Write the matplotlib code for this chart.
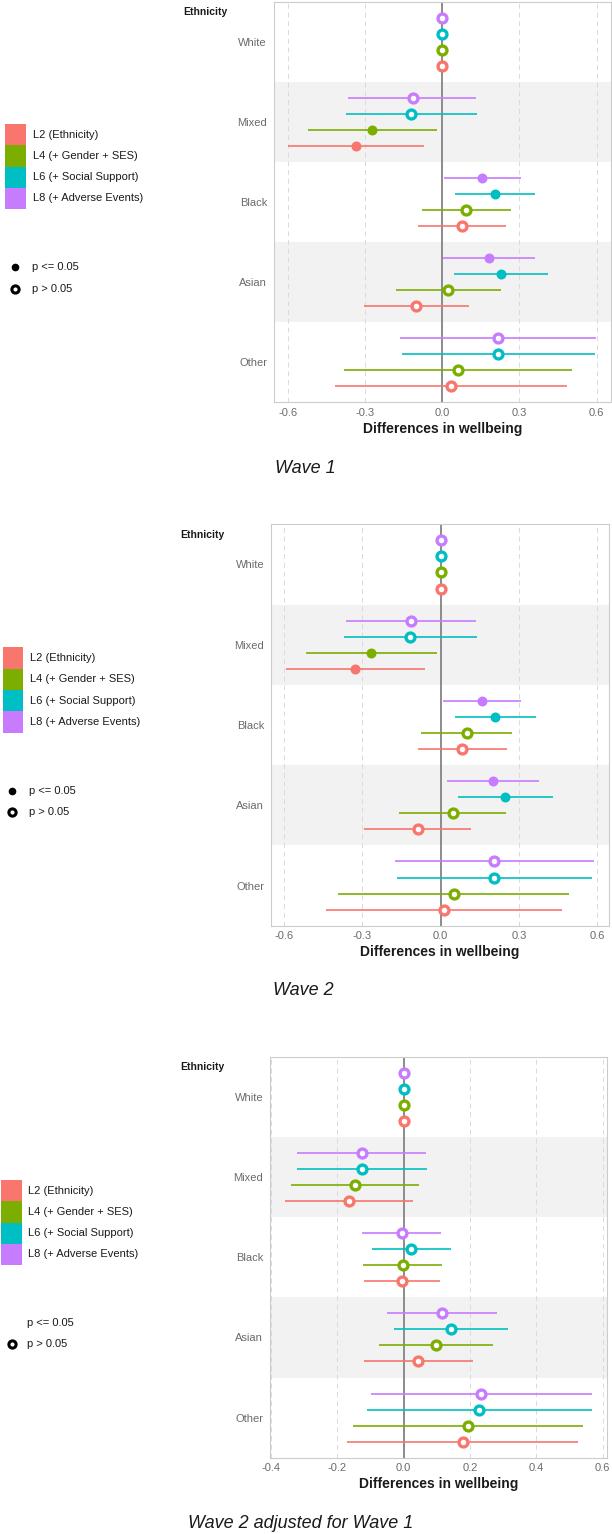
import matplotlib
matplotlib.use("Agg")
import matplotlib.pyplot as plt
from matplotlib.patches import Rectangle
from matplotlib.lines import Line2D

plt.rcParams['font.family'] = ['Liberation Sans', 'DejaVu Sans']

W, H = 612, 1534
DPI = 100

ethnicities = ["White", "Mixed", "Black", "Asian", "Other"]
models = ["L2 (Ethnicity)", "L4 (+ Gender + SES)", "L6 (+ Social Support)", "L8 (+ Adverse Events)"]
colors = ["#F8766D", "#7CAE00", "#00BFC4", "#C77CFF"]
titles = ["Wave 1", "Wave 2", "Wave 2 adjusted for Wave 1"]
xlabel = "Differences in wellbeing"

# Wave 1 (rows: L2, L4, L6, L8; columns: White, Mixed, Black, Asian, Other)
w1_est = [[0, -0.334, 0.076, -0.100, 0.035],
          [0, -0.272, 0.092, 0.023, 0.060],
          [0, -0.119, 0.205, 0.229, 0.219],
          [0, -0.115, 0.155, 0.183, 0.218]]
w1_lo = [[0, -0.598, -0.093, -0.304, -0.418],
         [0, -0.522, -0.080, -0.180, -0.382],
         [0, -0.372, 0.051, 0.047, -0.157],
         [0, -0.364, 0.008, 0.003, -0.165]]
w1_hi = [[0, -0.069, 0.247, 0.105, 0.487],
         [0, -0.019, 0.268, 0.229, 0.504],
         [0, 0.135, 0.361, 0.413, 0.593],
         [0, 0.133, 0.306, 0.361, 0.598]]
w1_sig = [[0, 1, 0, 0, 0],
          [0, 1, 0, 0, 0],
          [0, 0, 1, 1, 0],
          [0, 0, 1, 1, 0]]

# Wave 2
w2_est = [[0, -0.327, 0.083, -0.088, 0.013],
          [0, -0.267, 0.100, 0.046, 0.050],
          [0, -0.116, 0.209, 0.248, 0.203],
          [0, -0.113, 0.159, 0.201, 0.203]]
w2_lo = [[0, -0.592, -0.087, -0.293, -0.440],
         [0, -0.518, -0.074, -0.160, -0.394],
         [0, -0.370, 0.054, 0.067, -0.169],
         [0, -0.362, 0.009, 0.024, -0.175]]
w2_hi = [[0, -0.059, 0.253, 0.118, 0.466],
         [0, -0.014, 0.274, 0.251, 0.491],
         [0, 0.138, 0.366, 0.431, 0.581],
         [0, 0.137, 0.308, 0.379, 0.587]]
w2_sig = [[0, 1, 0, 0, 0],
          [0, 1, 0, 0, 0],
          [0, 0, 1, 1, 0],
          [0, 0, 1, 1, 0]]

# Wave 2 adjusted for Wave 1
w3_est = [[0, -0.165, -0.004, 0.043, 0.179],
          [0, -0.146, -0.003, 0.097, 0.193],
          [0, -0.126, 0.022, 0.142, 0.228],
          [0, -0.127, -0.006, 0.117, 0.234]]
w3_lo = [[0, -0.357, -0.120, -0.121, -0.170],
         [0, -0.339, -0.122, -0.073, -0.153],
         [0, -0.322, -0.095, -0.030, -0.112],
         [0, -0.321, -0.125, -0.051, -0.099]]
w3_hi = [[0, 0.029, 0.110, 0.208, 0.527],
         [0, 0.046, 0.116, 0.268, 0.540],
         [0, 0.070, 0.142, 0.314, 0.569],
         [0, 0.067, 0.113, 0.282, 0.567]]
w3_sig = [[0, 0, 0, 0, 0],
          [0, 0, 0, 0, 0],
          [0, 0, 0, 0, 0],
          [0, 0, 0, 0, 0]]

ticks12 = [-0.6, -0.3, 0.0, 0.3, 0.6]
tick_labels12 = ["-0.6", "-0.3", "0.0", "0.3", "0.6"]
ticks3 = [-0.4, -0.2, 0.0, 0.2, 0.4, 0.6]
tick_labels3 = ["-0.4", "-0.2", "0.0", "0.2", "0.4", "0.6"]

fig = plt.figure(figsize=(W / DPI, H / DPI), dpi=DPI)


def fx(x):
    return x / W


def fy(y):
    return 1 - y / H


panels = [
    dict(est=w1_est, lo=w1_lo, hi=w1_hi, sig=w1_sig, box=(274, 2, 611, 402),
         xlim=(-0.653, 0.656), ticks=ticks12, tl=tick_labels12, title=titles[0],
         title_xy=(275, 468), eth_xy=(183, 12), leg_sq=(4.7, 26, 124, 209),
         leg_text_x=33, dot_x=15, dot_y=(267, 289), show_filled=True),
    dict(est=w2_est, lo=w2_lo, hi=w2_hi, sig=w2_sig, box=(271.3, 524.3, 608.7, 925.7),
         xlim=(-0.650, 0.645), ticks=ticks12, tl=tick_labels12, title=titles[1],
         title_xy=(273, 991), eth_xy=(180, 535), leg_sq=(2.7, 23.3, 647, 733),
         leg_text_x=30, dot_x=12, dot_y=(791, 812), show_filled=True),
    dict(est=w3_est, lo=w3_lo, hi=w3_hi, sig=w3_sig, box=(270.3, 1056.7, 607, 1457.7),
         xlim=(-0.402, 0.613), ticks=ticks3, tl=tick_labels3, title=titles[2],
         title_xy=(188, 1523), eth_xy=(180, 1067), leg_sq=(1, 22, 1180, 1265),
         leg_text_x=28, dot_x=12, dot_y=(1323, 1344), show_filled=False),
]

offsets = [0.3, 0.1, -0.1, -0.3]
border_col = "#CCCCCC"

for p in panels:
    l, t, r, b = p["box"]
    ax = fig.add_axes([fx(l), fy(b), (r - l) / W, (b - t) / H])
    ax.set_xlim(*p["xlim"])
    ax.set_ylim(4.5, -0.5)
    # alternating bands
    for i in (1, 3):
        ax.axhspan(i - 0.5, i + 0.5, color="#F2F2F2", zorder=0, lw=0)
    for tk in p["ticks"]:
        ax.axvline(tk, color="#DADADA", lw=0.7, ls=(0, (5, 4)), zorder=0.5)
    ax.axvline(0, color="#8C8C8C", lw=1.4, zorder=1)
    for m in range(4):
        for e in range(5):
            y = e + offsets[m]
            ax.plot([p["lo"][m][e], p["hi"][m][e]], [y, y], color=colors[m], lw=1.2,
                    solid_capstyle="butt", zorder=2)
            if p["sig"][m][e]:
                ax.plot([p["est"][m][e]], [y], marker="o", ms=7.2, color=colors[m],
                        mec=colors[m], mew=0, ls="none", zorder=3)
            else:
                ax.plot([p["est"][m][e]], [y], marker="o", ms=6.4, mfc="white",
                        mec=colors[m], mew=2.4, ls="none", zorder=3)
    ax.set_yticks(range(5))
    ax.set_yticklabels(ethnicities)
    ax.set_xticks(p["ticks"])
    ax.set_xticklabels(p["tl"])
    ax.tick_params(axis="both", colors="#CCCCCC", labelcolor="#6B6B6B", labelsize=8,
                   length=0, pad=4)
    ax.tick_params(axis="y", pad=5)
    for s in ax.spines.values():
        s.set_color(border_col)
        s.set_linewidth(0.8)
    ax.set_xlabel(xlabel, fontsize=10, fontweight="bold", color="#1A1A1A", labelpad=3)

    fig.text(fx(p["eth_xy"][0]), fy(p["eth_xy"][1]), "Ethnicity", fontsize=7.5,
             fontweight="bold", color="#1A1A1A", ha="left", va="center")
    fig.text(fx(p["title_xy"][0]), fy(p["title_xy"][1]), p["title"], fontsize=13,
             style="italic", color="#1A1A1A", ha="left", va="center")

    # colour legend
    x0, x1, y0, y1 = p["leg_sq"]
    hstep = (y1 - y0) / 4
    for m in range(4):
        yt = y0 + m * hstep
        fig.patches.append(Rectangle((fx(x0), fy(yt + hstep)), (x1 - x0) / W, hstep / H,
                                     transform=fig.transFigure, facecolor=colors[m],
                                     edgecolor="none"))
        fig.text(fx(p["leg_text_x"]), fy(yt + hstep / 2), models[m], fontsize=8,
                 color="#1A1A1A", ha="left", va="center")
    # significance legend
    dy1, dy2 = p["dot_y"]
    if p["show_filled"]:
        fig.add_artist(Line2D([fx(p["dot_x"])], [fy(dy1)], transform=fig.transFigure,
                              marker="o", ms=5.5, color="black", mew=0, ls="none"))
    fig.add_artist(Line2D([fx(p["dot_x"])], [fy(dy2)], transform=fig.transFigure,
                          marker="o", ms=5.2, mfc="white", mec="black", mew=2.2, ls="none"))
    fig.text(fx(p["leg_text_x"] - 1), fy(dy1), "p <= 0.05", fontsize=8, color="#1A1A1A",
             ha="left", va="center")
    fig.text(fx(p["leg_text_x"] - 1), fy(dy2), "p > 0.05", fontsize=8, color="#1A1A1A",
             ha="left", va="center")

fig.savefig("out.png", dpi=DPI, facecolor="white")
